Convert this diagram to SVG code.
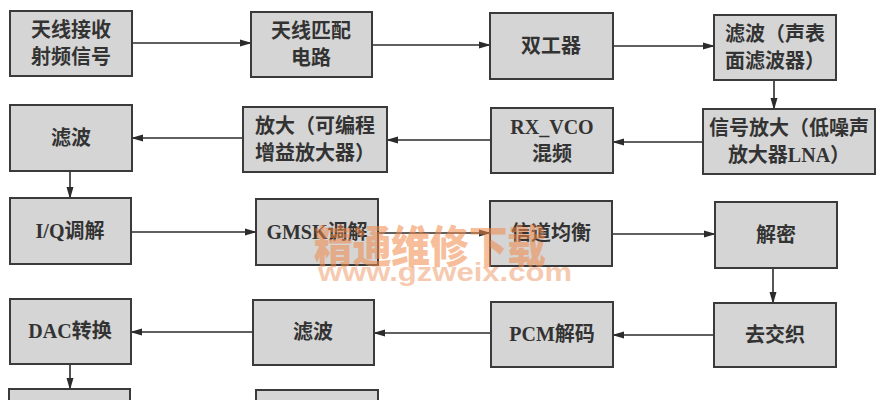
<svg xmlns="http://www.w3.org/2000/svg" width="887" height="400" viewBox="0 0 887 400">
<defs>
<marker id="ah" markerWidth="12" markerHeight="8" refX="11" refY="4" orient="auto" markerUnits="userSpaceOnUse">
<path d="M0,0.5 L12,4 L0,7.5 Z" fill="#2b2b2b"/>
</marker>
<style>
.box{fill:#d5d5d5;stroke:#3a3a3a;stroke-width:2}
.t{font-family:"Liberation Serif","Noto Sans CJK SC",serif;font-size:20px;font-weight:bold;fill:#333333;text-anchor:middle}
.c{stroke:#2b2b2b;stroke-width:1.6;fill:none;marker-end:url(#ah)}
.wm{font-family:"Noto Sans CJK SC",sans-serif;font-weight:900;fill:#f08a4a;opacity:0.55;text-anchor:middle}
.wm2{font-family:"Liberation Sans",sans-serif;font-weight:bold;fill:#f0a070;opacity:0.55;text-anchor:middle}
</style>
</defs>
<rect width="887" height="400" fill="#ffffff"/>
<g id="connectors">
<line class="c" x1="132" y1="43" x2="251" y2="43"/>
<line class="c" x1="372" y1="45" x2="490" y2="45"/>
<line class="c" x1="613" y1="46" x2="714" y2="46"/>
<line class="c" x1="774" y1="80" x2="774" y2="109"/>
<line class="c" x1="703" y1="142" x2="613" y2="142"/>
<line class="c" x1="491" y1="140" x2="387" y2="140"/>
<line class="c" x1="243" y1="138" x2="132" y2="138"/>
<line class="c" x1="70" y1="171" x2="70" y2="198"/>
<line class="c" x1="131" y1="232" x2="256" y2="232"/>
<line class="c" x1="378" y1="233" x2="490" y2="233"/>
<line class="c" x1="612" y1="234" x2="715" y2="234"/>
<line class="c" x1="773" y1="268" x2="773" y2="303"/>
<line class="c" x1="714" y1="335" x2="613" y2="335"/>
<line class="c" x1="491" y1="333" x2="374" y2="333"/>
<line class="c" x1="253" y1="332" x2="131" y2="332"/>
<line class="c" x1="70" y1="364" x2="70" y2="389"/>
</g>
<g id="n1"><rect class="box" x="10" y="11" width="122" height="65"/><text class="t" x="71" y="37">天线接收</text><text class="t" x="71" y="64">射频信号</text></g>
<g id="n2"><rect class="box" x="251" y="12" width="121" height="65"/><text class="t" x="311" y="38">天线匹配</text><text class="t" x="311" y="65">电路</text></g>
<g id="n3"><rect class="box" x="490" y="13" width="123" height="66"/><text class="t" x="551" y="53">双工器</text></g>
<g id="n4"><rect class="box" x="714" y="15" width="122" height="65"/><text class="t" x="775" y="41">滤波（声表</text><text class="t" x="775" y="68">面滤波器）</text></g>
<g id="n5"><rect class="box" x="703" y="109" width="172" height="65"/><text class="t" x="789" y="135">信号放大（低噪声</text><text class="t" x="789" y="162">放大器LNA）</text></g>
<g id="n6"><rect class="box" x="491" y="108" width="122" height="65"/><text class="t" x="552" y="134">RX_VCO</text><text class="t" x="552" y="161">混频</text></g>
<g id="n7"><rect class="box" x="243" y="107" width="144" height="65"/><text class="t" x="315" y="133">放大（可编程</text><text class="t" x="315" y="160">增益放大器）</text></g>
<g id="n8"><rect class="box" x="10" y="105" width="122" height="66"/><text class="t" x="71" y="145">滤波</text></g>
<g id="n9"><rect class="box" x="10" y="198" width="121" height="66"/><text class="t" x="70" y="238">I/Q调解</text></g>
<g id="n10"><rect class="box" x="256" y="199" width="122" height="66"/><text class="t" x="317" y="239">GMSK调解</text></g>
<g id="n11"><rect class="box" x="490" y="201" width="122" height="65"/><text class="t" x="551" y="240">信道均衡</text></g>
<g id="n12"><rect class="box" x="715" y="202" width="122" height="66"/><text class="t" x="776" y="242">解密</text></g>
<g id="n13"><rect class="box" x="714" y="303" width="122" height="64"/><text class="t" x="775" y="342">去交织</text></g>
<g id="n14"><rect class="box" x="491" y="302" width="122" height="65"/><text class="t" x="552" y="341">PCM解码</text></g>
<g id="n15"><rect class="box" x="253" y="300" width="121" height="65"/><text class="t" x="313" y="339">滤波</text></g>
<g id="n16"><rect class="box" x="10" y="299" width="121" height="65"/><text class="t" x="70" y="338">DAC转换</text></g>
<g id="n17"><rect class="box" x="9" y="389" width="121" height="30"/></g>
<g id="n18"><rect class="box" x="256" y="390" width="122" height="30"/></g>
<g id="watermark">
<text class="wm" x="430" y="263" font-size="44" textLength="232" lengthAdjust="spacingAndGlyphs">精通维修下载</text>
<text class="wm2" x="445" y="281" font-size="25" textLength="254" lengthAdjust="spacingAndGlyphs">www.gzweix.com</text>
</g>
</svg>
